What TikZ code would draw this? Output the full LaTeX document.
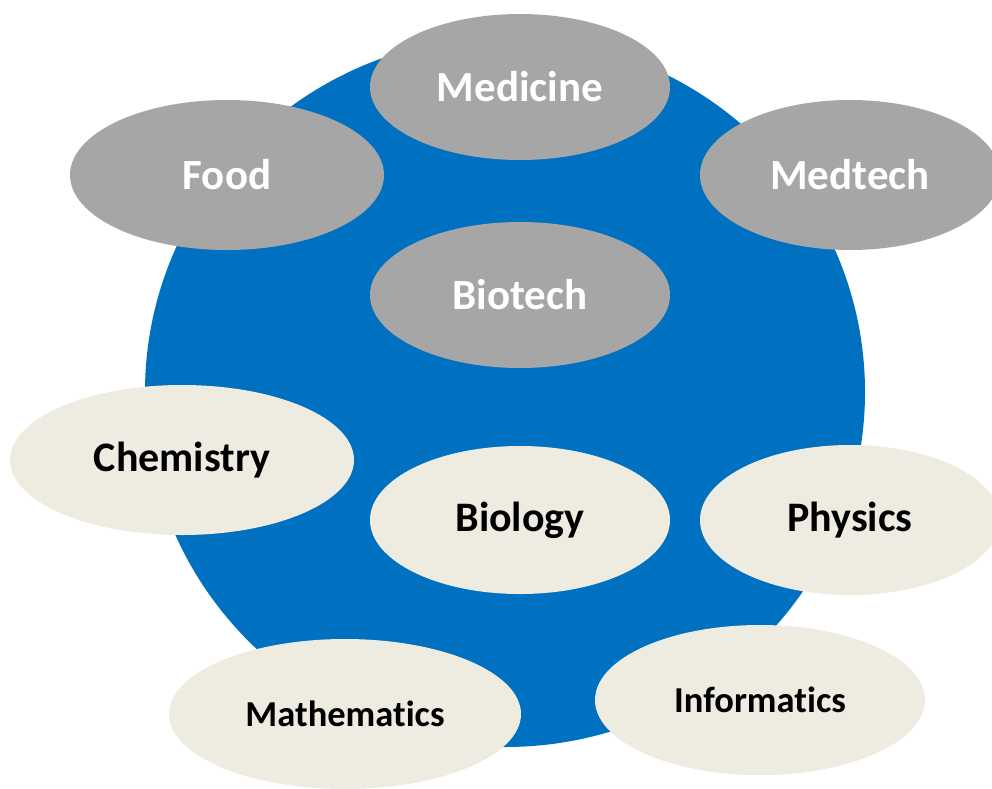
\documentclass[tikz,border=0pt]{standalone}
\usepackage{fontspec}
\setmainfont{Carlito}[Ligatures=NoCommon]
\usetikzlibrary{shapes.geometric}
\definecolor{circleblue}{HTML}{0070C0}
\definecolor{appgray}{HTML}{A6A6A6}
\definecolor{basebeige}{HTML}{EEECE1}
\tikzset{
	app/.style={ellipse, fill=appgray, text=white, font=\bfseries\fontsize{43}{48}\selectfont, inner sep=0pt, minimum width=300pt, minimum height=146pt},
	base/.style={ellipse, fill=basebeige, text=black, font=\bfseries\fontsize{42}{46}\selectfont, inner sep=0pt, minimum width=300pt, minimum height=148pt}
}
\begin{document}
\begin{tikzpicture}[x=1pt, y=-1pt]
	\useasboundingbox (0,0) rectangle (992,788);
	
	% DRAW CIRCLE
	\fill[circleblue] (505,392) ellipse (360 and 355);
	
	% APPLICATIONS
	\node[app] (medicine) at (520,87) {Medicine};
	\node[app, minimum width=314pt, minimum height=150pt] (food) at (227,175) {Food};
	\node[app, minimum height=150pt] (medtech) at (850,175) {Medtech};
	\node[app] (biotech) at (520,295) {Biotech};
	
	% BASIC SCIENCES
	\node[base, minimum width=344pt, minimum height=150pt] (chemistry) at (182,460) {Chemistry};
	\node[base] (biology) at (520,520) {Biology};
	\node[base, minimum height=150pt] (physics) at (850,520) {Physics};
	\node[base, minimum width=352pt, minimum height=150pt, font=\bfseries\fontsize{36.5}{40}\selectfont] (mathematics) at (345,714) {Mathematics};
	\node[base, minimum width=330pt, minimum height=150pt, font=\bfseries\fontsize{36.5}{40}\selectfont] (informatics) at (760,700) {Informatics};
\end{tikzpicture}
\end{document}
